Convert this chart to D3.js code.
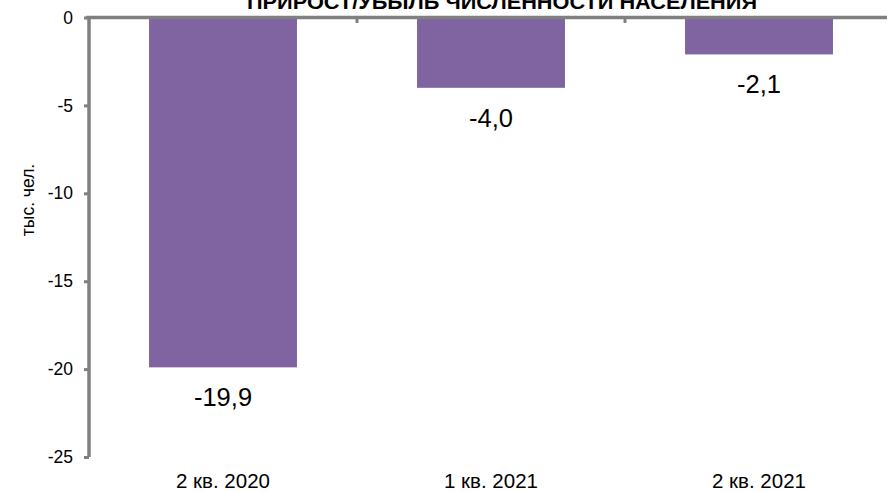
<!DOCTYPE html>
<html><head><meta charset="utf-8">
<script src="https://cdn.jsdelivr.net/npm/d3@7/dist/d3.min.js"></script>
<style>body{margin:0;background:#fff;}svg{display:block;font-family:"Liberation Sans",Arial,sans-serif;}</style>
</head><body>
<svg id="c" width="887" height="491"></svg>
<script>
const categories = ["2 кв. 2020", "1 кв. 2021", "2 кв. 2021"];
const values = [-19.9, -4.0, -2.1];
const yTicks = [0, -5, -10, -15, -20, -25];
const title = "ПРИРОСТ/УБЫЛЬ ЧИСЛЕННОСТИ НАСЕЛЕНИЯ";
const yTitle = "тыс. чел.";

const svg = d3.select("#c");
const axisColor = "#808080";
const x = d3.scaleBand().domain(categories).range([89, 893]).paddingInner(0.448).paddingOuter(0.224);
const y = d3.scaleLinear().domain([0, -25]).range([17.5, 457]);
const fmt = v => v.toFixed(1).replace(".", ",");

// bars
svg.selectAll("rect.bar").data(values).join("rect")
  .attr("x", (d, i) => x(categories[i]))
  .attr("y", y(0))
  .attr("width", x.bandwidth())
  .attr("height", d => y(d) - y(0))
  .attr("fill", "#8064A2");

// y axis
const yAxis = d3.axisLeft(y).tickValues(yTicks).tickSize(5).tickFormat(d => d);
const gy = svg.append("g").attr("transform", "translate(89,0)").call(yAxis);
gy.select(".domain").attr("stroke", axisColor).attr("stroke-width", 3.5).attr("d", `M0,${y(0)}V${y(-25)}`);
gy.selectAll(".tick line").attr("stroke", axisColor).attr("stroke-width", 3);
gy.selectAll(".tick text").attr("x", -16).attr("font-size", 17.5).attr("fill", "#000")
  .attr("font-family", '"Liberation Sans",Arial,sans-serif');

// zero (category) axis at top
const step = x.step();
const bounds = [89, 89 + step, 89 + 2 * step, 89 + 3 * step];
const gx = svg.append("g");
gx.append("line").attr("x1", 86).attr("x2", 893).attr("y1", y(0)).attr("y2", y(0))
  .attr("stroke", axisColor).attr("stroke-width", 3.5);
gx.selectAll("line.t").data(bounds.slice(1)).join("line")
  .attr("x1", d => d).attr("x2", d => d).attr("y1", y(0)).attr("y2", y(0) + 5.5)
  .attr("stroke", axisColor).attr("stroke-width", 3);

// category labels
svg.selectAll("text.cat").data(categories).join("text")
  .attr("x", d => x(d) + x.bandwidth() / 2).attr("y", 488)
  .attr("text-anchor", "middle").attr("font-size", 20.5).text(d => d);

// data labels
svg.selectAll("text.val").data(values).join("text")
  .attr("x", (d, i) => x(categories[i]) + x.bandwidth() / 2)
  .attr("y", d => y(d) + 39)
  .attr("text-anchor", "middle").attr("font-size", 25.5).text(d => fmt(d));

// y title
svg.append("text").attr("transform", "translate(34,200) rotate(-90)")
  .attr("text-anchor", "middle").attr("font-size", 17.5).text(yTitle);

// title
svg.append("text").attr("x", 502).attr("y", 8.5).attr("text-anchor", "middle")
  .attr("font-size", 20).attr("font-weight", "bold")
  .attr("textLength", 510).attr("lengthAdjust", "spacingAndGlyphs").text(title);
</script>
</body></html>
